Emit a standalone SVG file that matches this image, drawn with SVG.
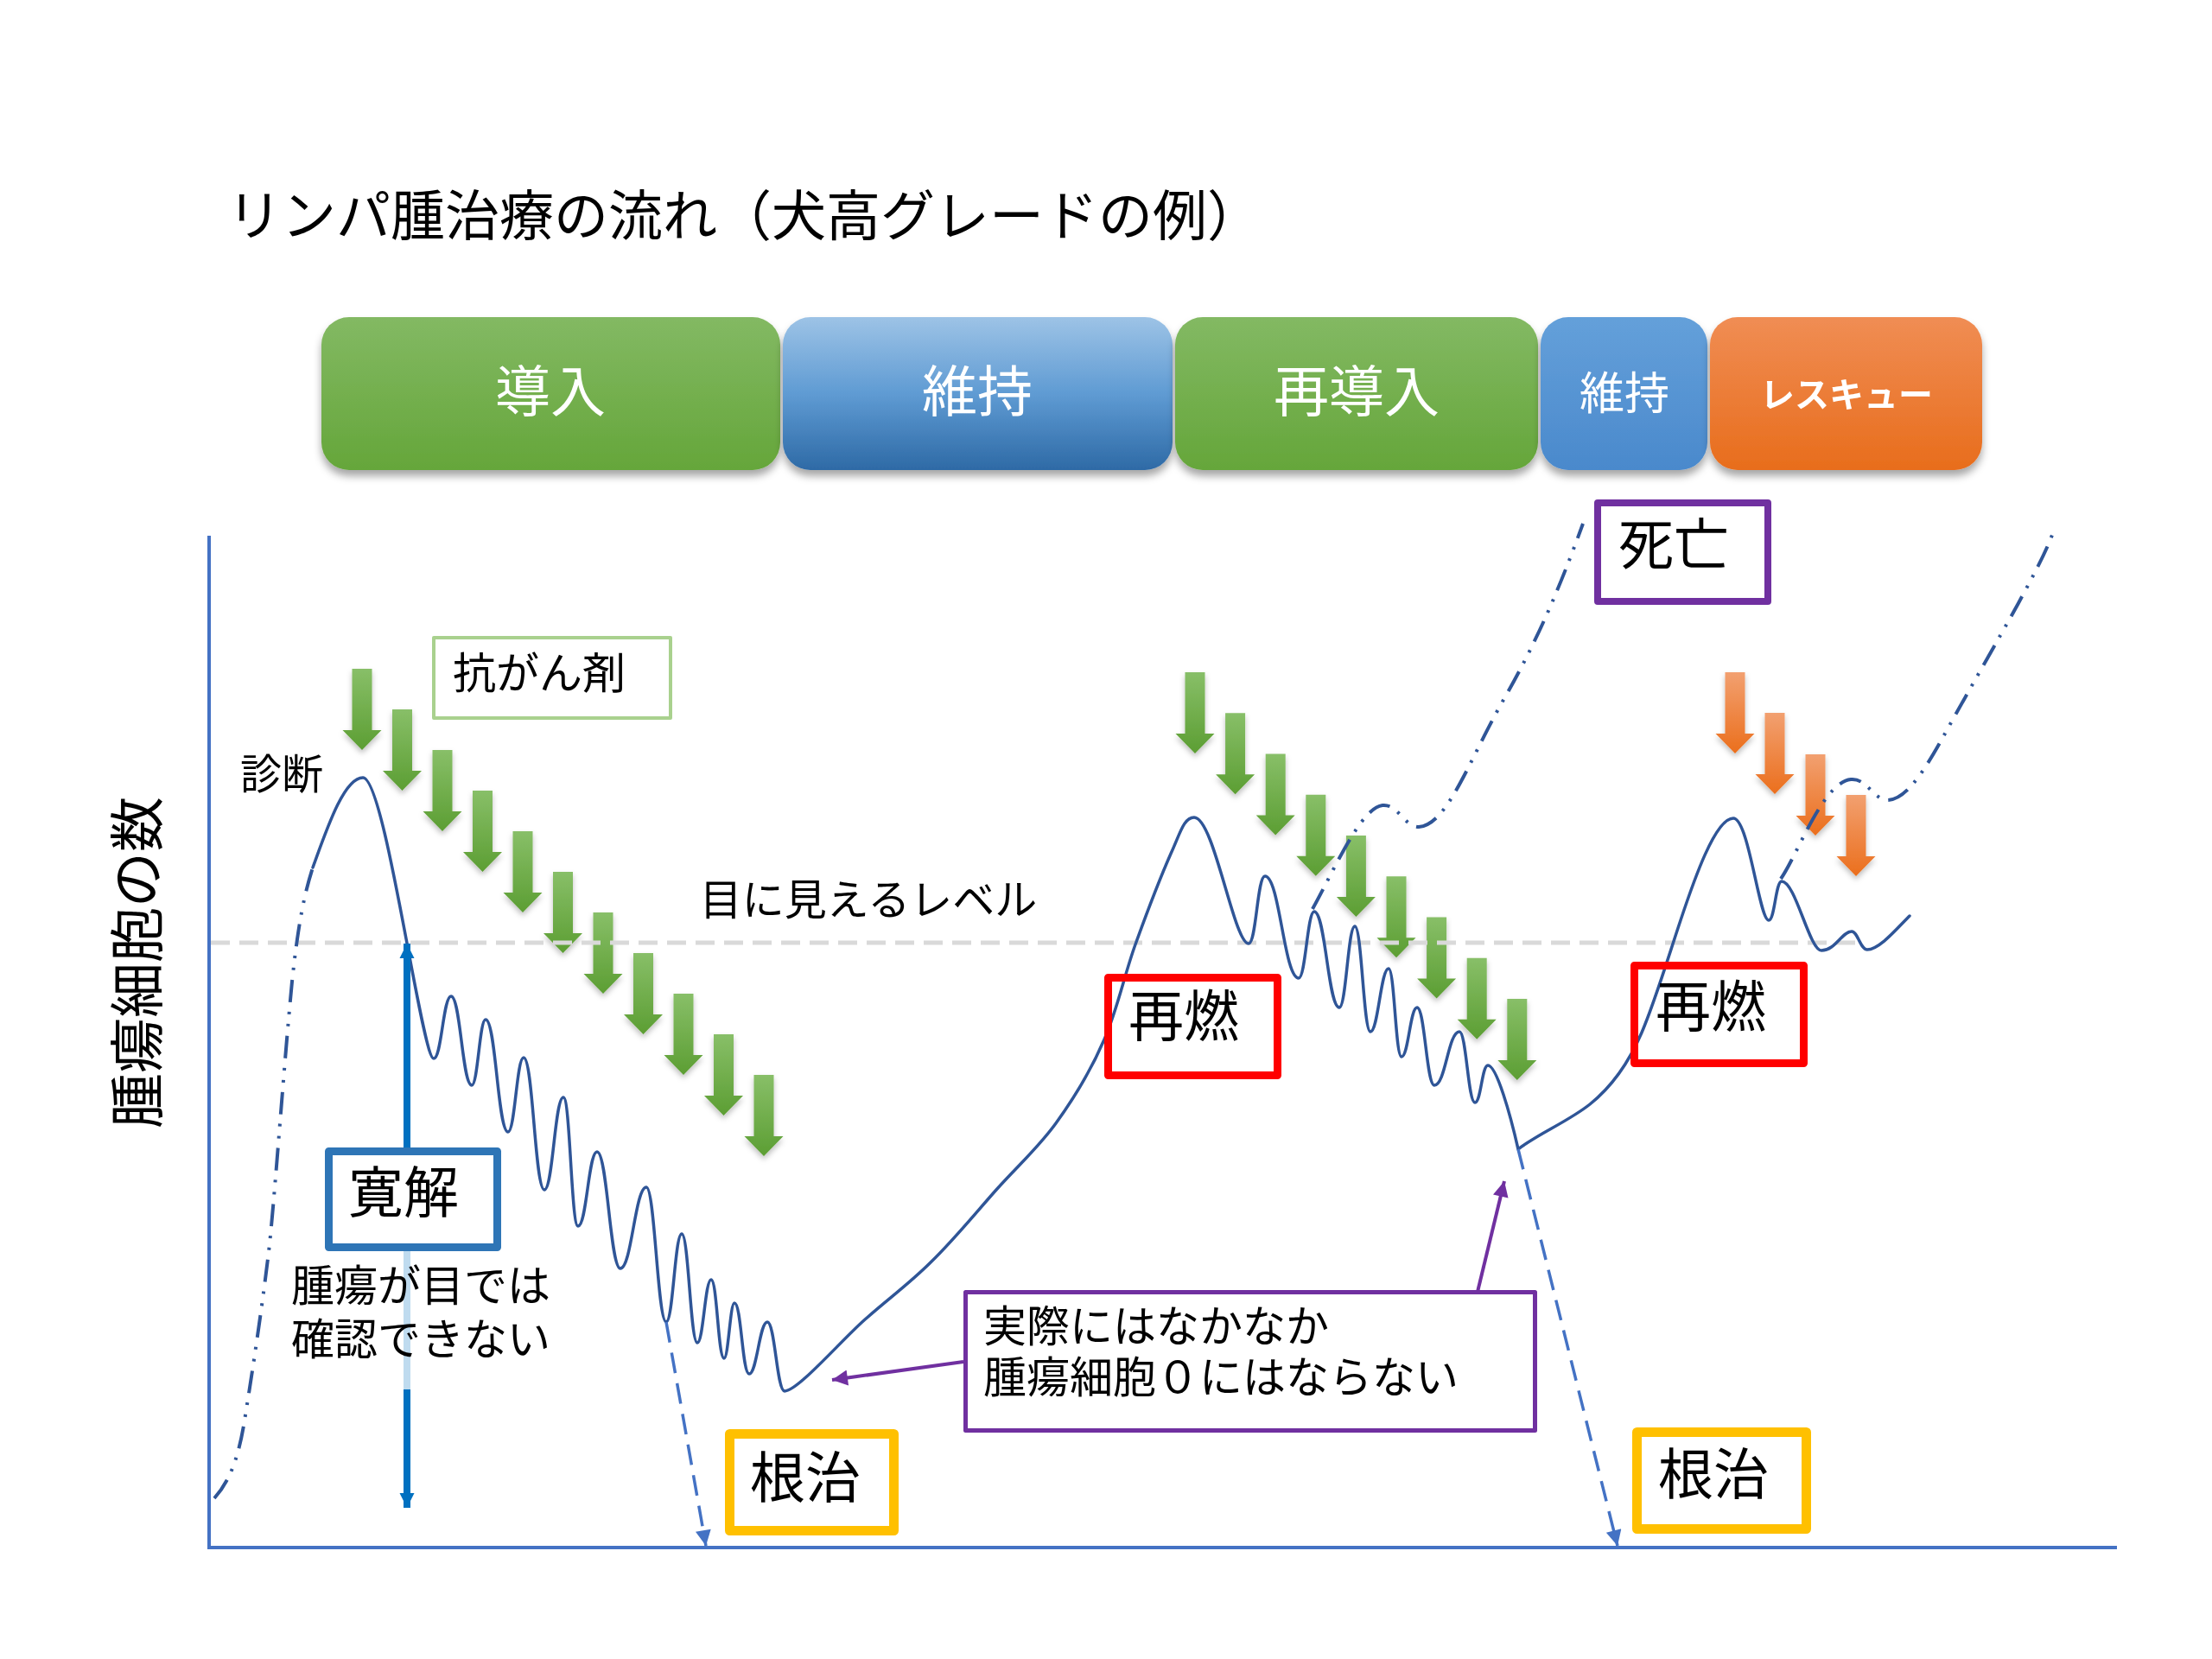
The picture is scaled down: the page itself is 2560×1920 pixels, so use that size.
<svg xmlns="http://www.w3.org/2000/svg" width="2560" height="1920" viewBox="0 0 2560 1920">
<defs>
<style>
text{font-family:'Noto Sans CJK JP','Noto Sans',sans-serif;fill:#000}
.lbl{fill:#fff;text-anchor:middle}
.mid{text-anchor:middle}
.curve{fill:none;stroke:#2f5597;stroke-width:3.5;stroke-linecap:round;stroke-linejoin:round}
.dd{fill:none;stroke:#2f5597;stroke-width:4;stroke-dasharray:26 11 3 11 3 11}
.cure{fill:none;stroke:#4472c4;stroke-width:3.5;stroke-dasharray:24 12}
.box{fill:#fff;stroke-linejoin:round}
</style>
<linearGradient id="gG" x1="0" y1="0" x2="0" y2="1"><stop offset="0" stop-color="#83b963"/><stop offset="1" stop-color="#65a63a"/></linearGradient>
<linearGradient id="gB" x1="0" y1="0" x2="0" y2="1"><stop offset="0" stop-color="#9dc3e6"/><stop offset="0.5" stop-color="#5f9bd3"/><stop offset="1" stop-color="#2e6aa6"/></linearGradient>
<linearGradient id="gB2" x1="0" y1="0" x2="0" y2="1"><stop offset="0" stop-color="#64a0da"/><stop offset="1" stop-color="#4a89cc"/></linearGradient>
<linearGradient id="gO" x1="0" y1="0" x2="0" y2="1"><stop offset="0" stop-color="#f08d54"/><stop offset="1" stop-color="#e86d1c"/></linearGradient>
<linearGradient id="aG" x1="0" y1="0" x2="0" y2="1"><stop offset="0" stop-color="#88bf68"/><stop offset="1" stop-color="#5c9e33"/></linearGradient>
<linearGradient id="aO" x1="0" y1="0" x2="0" y2="1"><stop offset="0" stop-color="#f2a070"/><stop offset="1" stop-color="#eb6f1d"/></linearGradient>
<filter id="sh" x="-10%" y="-10%" width="120%" height="130%"><feDropShadow dx="0" dy="7" stdDeviation="5" flood-color="#000" flood-opacity="0.35"/></filter>
<filter id="sh2" x="-30%" y="-10%" width="160%" height="130%"><feDropShadow dx="0" dy="4" stdDeviation="3" flood-color="#000" flood-opacity="0.25"/></filter>
<path id="arr" d="M-11.5,0 H11.5 V71 H22.5 L0,94 L-22.5,71 H-11.5 Z"/>
<marker id="mCure" viewBox="0 0 10 10" refX="10" refY="5" markerUnits="userSpaceOnUse" markerWidth="24" markerHeight="18" orient="auto"><path d="M0,0 L10,5 L0,10 Z" fill="#4472c4"/></marker>
<marker id="mPur" viewBox="0 0 10 10" refX="10" refY="5" markerUnits="userSpaceOnUse" markerWidth="24" markerHeight="18" orient="auto"><path d="M0,0 L10,5 L0,10 Z" fill="#7030a0"/></marker>
<marker id="mBlue" viewBox="0 0 10 10" refX="10" refY="5" markerUnits="userSpaceOnUse" markerWidth="17" markerHeight="33" orient="auto"><path d="M0,0 L10,5 L0,10 Z" fill="#0070c0"/></marker>
</defs>
<rect width="2560" height="1920" fill="#fff"/>

<text id="title" x="263" y="272" font-size="63">リンパ腫治療の流れ（犬高グレードの例）</text>

<g id="phases">
<g id="phase-induction" filter="url(#sh)"><rect x="372" y="367" width="531" height="177" rx="32" fill="url(#gG)"/><text class="lbl" x="637" y="476" font-size="64">導入</text></g>
<g id="phase-maint1" filter="url(#sh)"><rect x="906" y="367" width="451" height="177" rx="32" fill="url(#gB)"/><text class="lbl" x="1131" y="476" font-size="64">維持</text></g>
<g id="phase-reinduction" filter="url(#sh)"><rect x="1360" y="367" width="420" height="177" rx="32" fill="url(#gG)"/><text class="lbl" x="1570" y="476" font-size="64">再導入</text></g>
<g id="phase-maint2" filter="url(#sh)"><rect x="1783" y="367" width="193" height="177" rx="32" fill="url(#gB2)"/><text class="lbl" x="1880" y="474" font-size="52">維持</text></g>
<g id="phase-rescue" filter="url(#sh)"><rect x="1979" y="367" width="315" height="177" rx="32" fill="url(#gO)"/><text class="lbl" x="2137" y="471" font-size="40" font-weight="bold">レスキュー</text></g>
</g>

<g id="axes" stroke="#4472c4" stroke-width="4" fill="none">
<line x1="242" y1="620" x2="242" y2="1793"/>
<line x1="240" y1="1791" x2="2450" y2="1791"/>
</g>
<text id="ylabel" class="mid" transform="translate(182,1114) rotate(-90)" font-size="64">腫瘍細胞の数</text>

<g id="chemo-arrows" filter="url(#sh2)" fill="url(#aG)">
<use href="#arr" x="419" y="774"/><use href="#arr" x="465.5" y="821"/><use href="#arr" x="512" y="868"/><use href="#arr" x="558.5" y="915"/><use href="#arr" x="605" y="962"/><use href="#arr" x="651.5" y="1009"/><use href="#arr" x="698" y="1056"/><use href="#arr" x="744.5" y="1103"/><use href="#arr" x="791" y="1150"/><use href="#arr" x="837.5" y="1197"/><use href="#arr" x="884" y="1244"/>
</g>
<g id="chemo-arrows-2" filter="url(#sh2)" fill="url(#aG)">
<use href="#arr" x="1383" y="778"/><use href="#arr" x="1429.6" y="825.3"/><use href="#arr" x="1476.2" y="872.5"/><use href="#arr" x="1522.8" y="919.8"/><use href="#arr" x="1569.4" y="967"/><use href="#arr" x="1616" y="1014.3"/><use href="#arr" x="1662.6" y="1061.5"/><use href="#arr" x="1709.2" y="1108.8"/><use href="#arr" x="1755.8" y="1156"/>
</g>
<g id="rescue-arrows" filter="url(#sh2)" fill="url(#aO)">
<use href="#arr" x="2008" y="778"/><use href="#arr" x="2054" y="825"/><use href="#arr" x="2101" y="873"/><use href="#arr" x="2148" y="920"/>
</g>

<line id="visible-level" x1="244" y1="1091" x2="2155" y2="1091" stroke="#d9d9d9" stroke-width="5" stroke-dasharray="22 11"/>
<text id="visible-label" class="mid" x="1005" y="1059" font-size="49">目に見えるレベル</text>

<g id="connectors">
<path class="dd" d="M248,1734 C265,1715 275,1690 282,1650 C295,1570 305,1500 312,1440 C320,1360 328,1240 338,1136 C345,1070 352,1035 362,1004"/>
<path class="curve" d="M362,1004 C378,960 398,900 420,900 C446,900 488,1225 502,1225 C511,1225 513,1153 522,1153 C533,1153 535,1256 546,1256 C553,1256 555,1180 562,1180 C574,1180 576,1310 588,1310 C596,1310 598,1224 606,1224 C617,1224 619,1377 630,1377 C640,1377 642,1270 652,1270 C660,1270 661,1419 669,1419 C679,1419 681,1333 691,1333 C703,1333 706,1468 718,1468 C731,1468 735,1374 748,1374 C758,1374 761,1530 771,1530 C779,1530 781,1428 789,1428 C797,1428 799,1554 807,1554 C814,1554 816,1481 823,1481 C830,1481 831,1572 838,1572 C843,1572 845,1508 850,1508 C858,1508 859,1590 867,1590 C876,1590 879,1530 888,1530 C897,1530 899,1610 908,1610 C923,1610 972,1553 1000,1528 C1028,1503 1052,1486 1077,1461 C1103,1436 1129,1404 1153,1377 C1177,1350 1201,1329 1222,1300 C1243,1271 1263,1238 1278,1203 C1293,1169 1301,1129 1314,1093 C1327,1057 1344,1013 1355,988 C1366,964 1370,946 1382,946 C1405,946 1428,1092 1445,1092 C1454,1092 1455,1014 1464,1014 C1481,1014 1486,1132 1503,1132 C1511,1132 1513,1055 1521,1055 C1534,1055 1537,1166 1550,1166 C1558,1166 1560,1072 1568,1072 C1576,1072 1578,1194 1586,1194 C1595,1194 1598,1121 1607,1121 C1614,1121 1615,1223 1622,1223 C1630,1223 1632,1166 1640,1166 C1649,1166 1651,1256 1660,1256 C1673,1256 1676,1194 1689,1194 C1697,1194 1699,1276 1707,1276 C1714,1276 1715,1233 1722,1233 C1732,1233 1748,1290 1757,1330 C1780,1312 1815,1298 1840,1278 C1865,1258 1885,1230 1900,1195 C1915,1160 1930,1110 1945,1065 C1960,1020 1985,947 2006,947 C2024,947 2036,1065 2047,1065 C2054,1065 2055,1020 2062,1020 C2078,1020 2094,1100 2108,1100 C2124,1100 2132,1078 2143,1078 C2150,1078 2153,1099 2161,1099 C2175,1099 2195,1075 2210,1060"/>
<path class="dd" d="M1519,1052 C1545,1005 1575,935 1600,932 C1618,930 1625,957 1642,957 C1675,955 1700,880 1740,810 C1780,740 1805,680 1832,606"/>
<path class="dd" d="M2061,1017 C2080,990 2110,905 2142,902 C2160,900 2168,925 2184,926 C2205,926 2225,895 2246,858 C2275,805 2310,745 2336,698 C2352,668 2368,640 2378,611"/>
<line class="cure" x1="771" y1="1530" x2="817" y2="1789" marker-end="url(#mCure)"/>
<line class="cure" x1="1757" y1="1330" x2="1872" y2="1789" marker-end="url(#mCure)"/>
<line x1="1115" y1="1576" x2="963" y2="1597" stroke="#7030a0" stroke-width="4" marker-end="url(#mPur)"/>
<line x1="1710" y1="1495" x2="1741" y2="1367" stroke="#7030a0" stroke-width="4" marker-end="url(#mPur)"/>
<line x1="471" y1="1340" x2="471" y2="1092" stroke="#0070c0" stroke-width="8" marker-end="url(#mBlue)"/>
<line x1="471" y1="1448" x2="471" y2="1610" stroke="#0070c0" stroke-width="8" opacity="0.25"/>
<line x1="471" y1="1608" x2="471" y2="1745" stroke="#0070c0" stroke-width="8" marker-end="url(#mBlue)"/>
</g>

<g id="node-chemo"><rect class="box" x="502" y="738" width="274" height="93" stroke="#a9d18e" stroke-width="4"/><text class="mid" x="624" y="797" font-size="50">抗がん剤</text></g>
<g id="node-diagnosis"><text class="mid" x="326" y="913" font-size="48">診断</text></g>
<g id="node-remission"><rect class="box" x="380.5" y="1332.5" width="195" height="111" stroke="#2e75b6" stroke-width="9"/><text class="mid" x="467" y="1403" font-size="64">寛解</text></g>
<g id="node-remission-note"><text x="337" y="1506" font-size="50"><tspan x="337" y="1506">腫瘍が目では</tspan><tspan x="337" y="1568">確認できない</tspan></text></g>
<g id="node-cure1"><rect class="box" x="844.5" y="1659.5" width="190" height="112" stroke="#ffc000" stroke-width="11"/><text class="mid" x="932" y="1733" font-size="64">根治</text></g>
<g id="node-cure2"><rect class="box" x="1894.5" y="1657.5" width="196" height="112" stroke="#ffc000" stroke-width="11"/><text class="mid" x="1983" y="1729" font-size="64">根治</text></g>
<g id="node-relapse1"><rect x="1282.5" y="1131.5" width="196" height="113" fill="none" stroke="#ff0000" stroke-width="9" stroke-linejoin="round"/><text class="mid" x="1370" y="1199" font-size="64">再燃</text></g>
<g id="node-relapse2"><rect x="1891.5" y="1117.5" width="196" height="113" fill="none" stroke="#ff0000" stroke-width="9" stroke-linejoin="round"/><text class="mid" x="1980" y="1188" font-size="64">再燃</text></g>
<g id="node-death"><rect class="box" x="1849" y="582" width="197" height="114" stroke="#7030a0" stroke-width="8"/><text class="mid" x="1937" y="653" font-size="64">死亡</text></g>
<g id="node-note"><rect class="box" x="1117.5" y="1495.5" width="659" height="160" stroke="#7030a0" stroke-width="5"/><text x="1138" y="1553" font-size="50"><tspan x="1138" y="1553">実際にはなかなか</tspan><tspan x="1138" y="1612">腫瘍細胞０にはならない</tspan></text></g>
</svg>
